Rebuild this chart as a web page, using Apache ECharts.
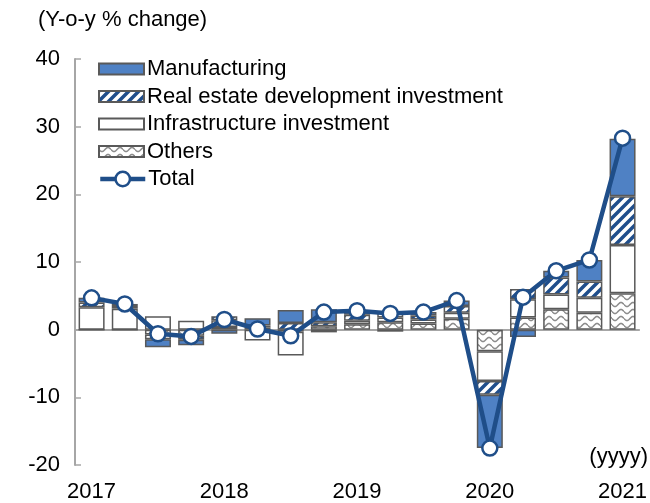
<!DOCTYPE html>
<html>
<head>
<meta charset="utf-8">
<script src="https://cdn.jsdelivr.net/npm/echarts@6/dist/echarts.min.js"></script>
<style>
  html, body { margin: 0; padding: 0; background: #fff; }
  #chart { width: 650px; height: 503px; }
</style>
</head>
<body>
<div id="chart"></div>
<script>
// Quarterly contributions to y-o-y change
const quarters = ['2017Q1', '2017Q2', '2017Q3', '2017Q4', '2018Q1', '2018Q2', '2018Q3', '2018Q4',
    '2019Q1', '2019Q2', '2019Q3', '2019Q4', '2020Q1', '2020Q2', '2020Q3', '2020Q4', '2021Q1'];
const others = [0, 0, -0.7, -0.9, 0.4, 0.3, -0.3, 0.5, 0.8, 1.1, 0.9, 1.6, -3.2, 1.8, 3.0, 2.5, 5.4];
const infrastructure = [3.3, 3.1, 2.0, 1.3, 1.0, -1.6, -3.5, -0.4, 0.5, 0.7, 0.6, 0.9, -4.4, 2.7, 2.2, 2.2, 7.1];
const realEstate = [0.7, 0.4, -0.7, -0.6, 0.6, 0.3, 1.0, 0.6, 0.9, 0.9, 0.6, 1.0, -2.0, 1.5, 2.5, 2.4, 7.2];
const manufacturing = [0.7, 0.3, -1.2, -0.8, -0.6, 1.1, 1.9, 1.9, 0.6, -0.3, 0.5, 0.8, -7.9, -1.1, 1.0, 3.2, 8.5];
const total = [4.7, 3.8, -0.6, -1.0, 1.5, 0.1, -0.9, 2.6, 2.8, 2.4, 2.6, 4.3, -17.5, 4.8, 8.7, 10.3, 28.3];

const FONT = 'Liberation Sans, Arial, sans-serif';
const BORDER = '#595959';
const NAVY = '#1F4E89';

function hatchPattern() {
    const c = document.createElement('canvas');
    c.width = 10; c.height = 10;
    const ctx = c.getContext('2d');
    ctx.fillStyle = '#fff';
    ctx.fillRect(0, 0, 10, 10);
    ctx.strokeStyle = '#1F4E8C';
    ctx.lineWidth = 3.5;
    ctx.beginPath();
    ctx.moveTo(-2, 12); ctx.lineTo(12, -2);
    ctx.moveTo(-2, 2); ctx.lineTo(2, -2);
    ctx.moveTo(8, 12); ctx.lineTo(12, 8);
    ctx.stroke();
    return c;
}

function wavePattern() {
    const c = document.createElement('canvas');
    c.width = 12; c.height = 7;
    const ctx = c.getContext('2d');
    ctx.fillStyle = '#fff';
    ctx.fillRect(0, 0, 12, 7);
    ctx.strokeStyle = '#8c8c8c';
    ctx.lineWidth = 1.6;
    ctx.beginPath();
    for (let x = 0; x <= 12; x += 0.5) {
        const y = 3.5 + 2 * Math.sin(x / 12 * Math.PI * 2);
        if (x === 0) ctx.moveTo(x, y); else ctx.lineTo(x, y);
    }
    ctx.stroke();
    return c;
}

function barSeries(name, data, color) {
    return {
        name: name,
        type: 'bar',
        stack: 'contrib',
        barWidth: 26,
        data: data,
        itemStyle: { color: color, borderColor: BORDER, borderWidth: 1.5 }
    };
}

const legendText = { fontSize: 22, color: '#000', fontFamily: FONT, padding: [0, 0, 0, -2] };

const chart = echarts.init(document.getElementById('chart'));

chart.setOption({
    animation: false,
    textStyle: { fontFamily: FONT },
    title: [
        { text: '(Y-o-y % change)', left: 38, top: 9, padding: 0,
          textStyle: { fontSize: 22, fontWeight: 'normal', color: '#000', fontFamily: FONT } },
        { text: '(yyyy)', right: 2, top: 446, padding: 0,
          textStyle: { fontSize: 22, fontWeight: 'normal', color: '#000', fontFamily: FONT } }
    ],
    legend: [
        {
            orient: 'vertical',
            left: 98,
            top: 58,
            padding: 0,
            itemWidth: 45,
            itemHeight: 11,
            itemGap: 5.5,
            textStyle: legendText,
            data: [
                { name: 'Manufacturing', icon: 'rect' },
                { name: 'Real estate development investment', icon: 'rect' },
                { name: 'Infrastructure investment', icon: 'rect' },
                { name: 'Others', icon: 'rect' }
            ]
        },
        {
            left: 98,
            top: 168,
            padding: 0,
            itemWidth: 45,
            itemHeight: 18,
            textStyle: legendText,
            lineStyle: { width: 4.5, color: NAVY },
            itemStyle: { color: '#fff', borderColor: NAVY, borderWidth: 2.5 },
            data: ['Total']
        }
    ],
    grid: { left: 75, right: 10, top: 59, bottom: 37 },
    xAxis: [
        {
            type: 'category',
            data: quarters,
            axisLine: { onZero: true, lineStyle: { color: '#a6a6a6', width: 2 } },
            axisTick: { inside: true, length: 5, interval: (i) => i % 4 === 0,
                        lineStyle: { color: '#a6a6a6', width: 1.5 } },
            axisLabel: { show: false }
        },
        {
            type: 'category',
            data: quarters,
            position: 'bottom',
            axisLine: { show: false, onZero: false },
            axisTick: { show: false },
            axisLabel: { interval: 3, margin: 16, fontSize: 22, color: '#000', fontFamily: FONT,
                         formatter: (v) => v.slice(0, 4) }
        }
    ],
    yAxis: {
        type: 'value',
        min: -20,
        max: 40,
        interval: 10,
        axisLine: { show: true, lineStyle: { color: '#a6a6a6', width: 2 } },
        axisTick: { show: true, inside: true, length: 6, lineStyle: { color: '#a6a6a6', width: 1.5 } },
        splitLine: { show: false },
        axisLabel: { fontSize: 22, color: '#000', margin: 15, fontFamily: FONT }
    },
    series: [
        barSeries('Others', others, { image: wavePattern(), repeat: 'repeat' }),
        barSeries('Infrastructure investment', infrastructure, '#ffffff'),
        barSeries('Real estate development investment', realEstate, { image: hatchPattern(), repeat: 'repeat' }),
        barSeries('Manufacturing', manufacturing, '#4F81C4'),
        {
            name: 'Total',
            type: 'line',
            data: total,
            symbol: 'circle',
            symbolSize: 15,
            lineStyle: { color: NAVY, width: 4.5 },
            itemStyle: { color: '#fff', borderColor: NAVY, borderWidth: 2.5 },
            z: 5
        }
    ]
});
</script>
</body>
</html>
